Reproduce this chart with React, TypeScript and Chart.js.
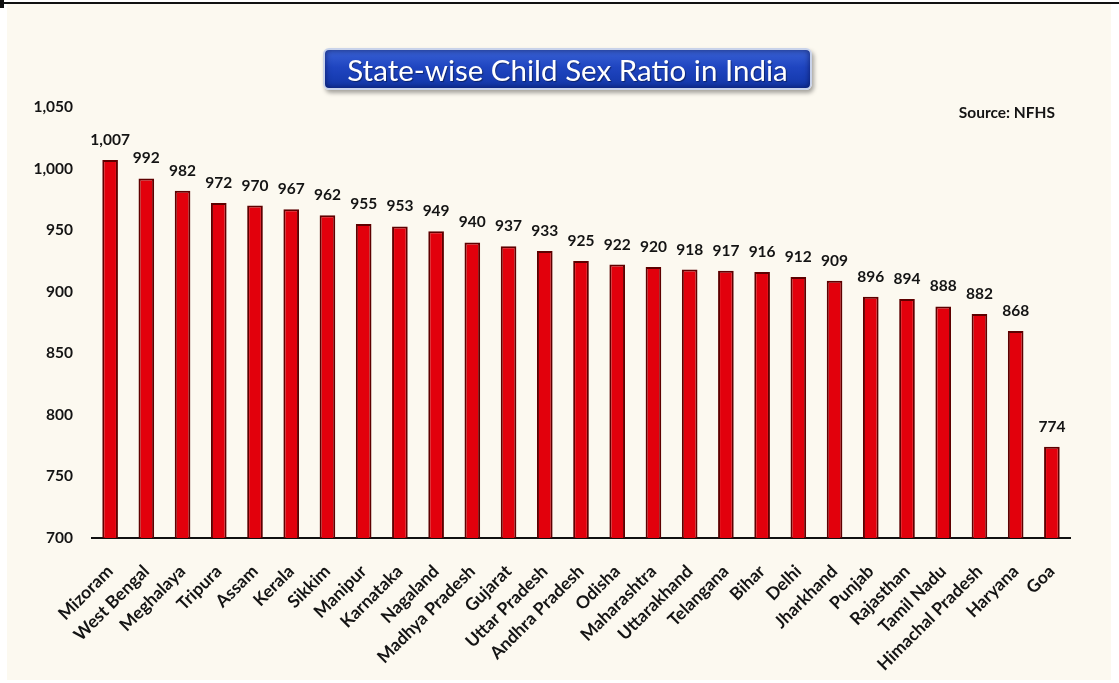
import React, { useEffect, useRef } from 'react';
import { Chart, registerables } from 'chart.js';

Chart.register(...registerables);

const states: string[] = [
  'Mizoram', 'West Bengal', 'Meghalaya', 'Tripura', 'Assam', 'Kerala', 'Sikkim',
  'Manipur', 'Karnataka', 'Nagaland', 'Madhya Pradesh', 'Gujarat', 'Uttar Pradesh',
  'Andhra Pradesh', 'Odisha', 'Maharashtra', 'Uttarakhand', 'Telangana', 'Bihar',
  'Delhi', 'Jharkhand', 'Punjab', 'Rajasthan', 'Tamil Nadu', 'Himachal Pradesh',
  'Haryana', 'Goa',
];

const childSexRatio: number[] = [
  1007, 992, 982, 972, 970, 967, 962, 955, 953, 949, 940, 937, 933, 925, 922, 920,
  918, 917, 916, 912, 909, 896, 894, 888, 882, 868, 774,
];

const yMin = 700;
const yMax = 1050;
const yStep = 50;

const titleText = 'State-wise Child Sex Ratio in India';
const sourceText = 'Source: NFHS';

const FONT = 'Lato, "Open Sans", sans-serif';

const fmt = (v: number) => v.toLocaleString('en-US');

const valueLabelsPlugin = {
  id: 'valueLabels',
  afterDatasetsDraw(chart: any) {
    const ctx = chart.ctx;
    const meta = chart.getDatasetMeta(0);
    const data = chart.data.datasets[0].data as number[];
    ctx.save();
    ctx.font = `bold 15.5px ${FONT}`;
    ctx.fillStyle = '#141414';
    ctx.textAlign = 'center';
    ctx.textBaseline = 'alphabetic';
    meta.data.forEach((bar: any, i: number) => {
      ctx.fillText(fmt(data[i]), bar.x, bar.y - 15);
    });
    ctx.restore();
  },
};

export default function App() {
  const canvasRef = useRef<HTMLCanvasElement | null>(null);

  useEffect(() => {
    if (!canvasRef.current) return;
    const chart = new Chart(canvasRef.current, {
      type: 'bar',
      data: {
        labels: states,
        datasets: [
          {
            data: childSexRatio,
            backgroundColor: '#e2000c',
            borderColor: '#5e0000',
            borderWidth: { left: 2, right: 2, top: 2, bottom: 0 },
            borderSkipped: 'bottom',
            barPercentage: 0.9,
            categoryPercentage: 0.48,
          },
        ],
      },
      options: {
        animation: false,
        responsive: false,
        maintainAspectRatio: false,
        layout: { padding: { left: 0, right: 49, top: 107, bottom: 0 } },
        plugins: {
          legend: { display: false },
          title: { display: false },
          tooltip: { enabled: false },
        },
        scales: {
          x: {
            grid: { display: false, drawTicks: false },
            border: { display: true, color: '#111', width: 2 },
            ticks: {
              autoSkip: false,
              minRotation: 45,
              maxRotation: 45,
              padding: 23,
              color: '#141414',
              font: { family: FONT, size: 17.5, weight: 'bold' },
            },
            afterFit: (scale: any) => {
              scale.height = 683 - 538;
            },
          },
          y: {
            min: yMin,
            max: yMax,
            grid: { display: false, drawTicks: false },
            border: { display: false },
            ticks: {
              stepSize: yStep,
              padding: 19,
              color: '#141414',
              font: { family: FONT, size: 15.5, weight: 'bold' },
              callback: (v: any) => fmt(Number(v)),
            },
            afterFit: (scale: any) => {
              scale.width = 92;
            },
          },
        },
      },
      plugins: [valueLabelsPlugin],
    });
    return () => chart.destroy();
  }, []);

  return (
    <div
      style={{
        position: 'fixed',
        left: 0,
        top: 0,
        width: 1119,
        height: 683,
        background: '#ffffff',
        overflow: 'hidden',
      }}
    >
      <div
        style={{
          position: 'absolute',
          left: 7,
          top: 4,
          width: 1104,
          height: 676,
          background: '#fcf9f0',
        }}
      />
      <div style={{ position: 'absolute', left: 0, top: 2, width: 1119, height: 2, background: '#111' }} />
      <div style={{ position: 'absolute', left: 0, top: 0, width: 4, height: 8, background: '#111' }} />
      <canvas
        ref={canvasRef}
        width={1119}
        height={683}
        style={{ position: 'absolute', left: 0, top: 0, width: 1119, height: 683 }}
      />
      <div
        style={{
          position: 'absolute',
          left: 323,
          top: 48,
          width: 489,
          height: 42,
          boxSizing: 'border-box',
          borderRadius: 6,
          border: '2px solid #c9d3ea',
          background: 'linear-gradient(180deg, #3a63d6 0%, #1f45c0 45%, #1236a8 100%)',
          boxShadow: '2px 3px 4px rgba(0,0,0,0.35), inset 0 0 6px rgba(0,0,40,0.6)',
          display: 'flex',
          alignItems: 'center',
          justifyContent: 'center',
          color: '#ffffff',
          fontFamily: FONT,
          fontSize: 29.5,
          whiteSpace: 'nowrap',
          textShadow: '1px 1px 1px rgba(0,0,0,0.4)',
        }}
      >
        {titleText}
      </div>
      <div
        style={{
          position: 'absolute',
          right: 64,
          top: 103,
          color: '#141414',
          fontFamily: FONT,
          fontWeight: 'bold',
          fontSize: 15.5,
          whiteSpace: 'nowrap',
          lineHeight: '18px',
        }}
      >
        {sourceText}
      </div>
    </div>
  );
}
